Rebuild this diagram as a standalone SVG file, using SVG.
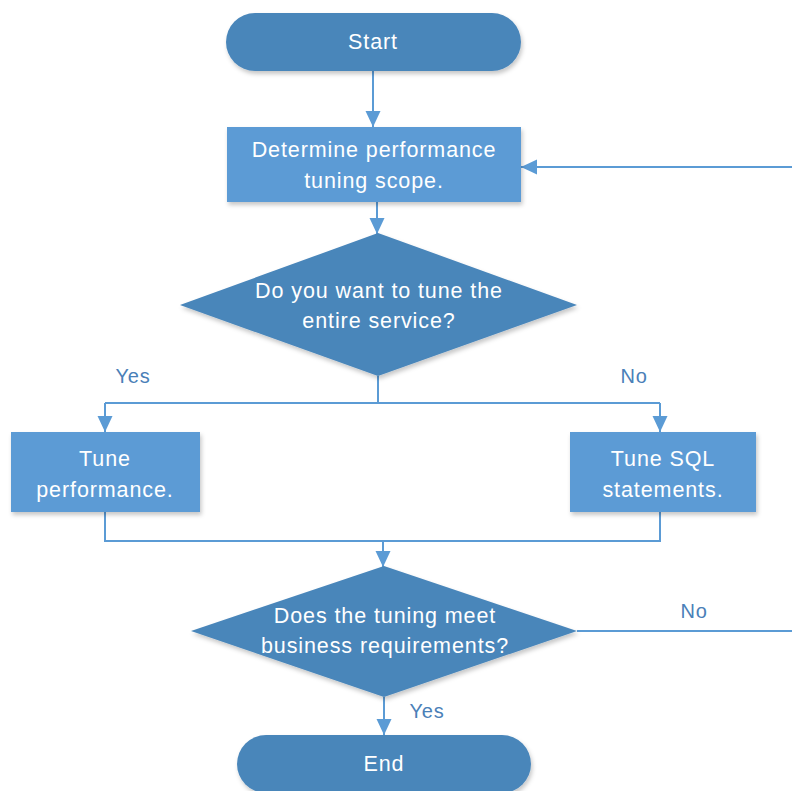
<svg xmlns="http://www.w3.org/2000/svg" width="792" height="791" viewBox="0 0 792 791">
<defs>
<style>
.term{fill:#4a86ba;filter:url(#sh)}
.proc{fill:#5b9bd5;filter:url(#sh)}
.dec{fill:#4a86ba;filter:url(#sh)}
.t{font-family:"Liberation Sans",Arial,sans-serif;font-size:21.5px;letter-spacing:0.9px;fill:#ffffff;text-anchor:middle}
.lbl{font-family:"Liberation Sans",Arial,sans-serif;font-size:20px;letter-spacing:0.8px;fill:#4a80b8;text-anchor:middle}
.c{fill:none;stroke:#5b9bd5;stroke-width:2}
.a{marker-end:url(#ah)}
</style>
<filter id="sh" x="-10%" y="-10%" width="125%" height="135%">
<feDropShadow dx="1.5" dy="3" stdDeviation="2" flood-color="#000" flood-opacity="0.22"/>
</filter>
<marker id="ah" markerUnits="userSpaceOnUse" markerWidth="16" markerHeight="16" viewBox="0 0 16 16" refX="16" refY="8" orient="auto">
<path d="M0,0.5 L16,8 L0,15.5 z" fill="#5b9bd5"/>
</marker>
</defs>
<g id="connectors">
<line class="c a" x1="373" y1="71" x2="373" y2="127"/>
<line class="c a" x1="377" y1="202" x2="377" y2="234"/>
<polyline class="c" points="378,376 378,403"/>
<polyline class="c" points="105,403 660,403"/>
<line class="c a" x1="105" y1="403" x2="105" y2="432"/>
<line class="c a" x1="660" y1="403" x2="660" y2="432"/>
<polyline class="c" points="105,512 105,541 660,541 660,512"/>
<line class="c a" x1="383" y1="541" x2="383" y2="567"/>
<line class="c" x1="577" y1="631" x2="792" y2="631"/>
<line class="c a" x1="792" y1="167" x2="521" y2="167"/>
<line class="c a" x1="384" y1="697" x2="384" y2="735"/>
<text class="lbl" x="133" y="383">Yes</text>
<text class="lbl" x="634" y="383">No</text>
<text class="lbl" x="694" y="618">No</text>
<text class="lbl" x="427" y="718">Yes</text>
</g>
<g id="start">
<rect class="term" x="226" y="13" width="295" height="58" rx="29"/>
<text class="t" x="373" y="49">Start</text>
</g>
<g id="scope">
<rect class="proc" x="227" y="127" width="294" height="75"/>
<text class="t" x="374" y="157">Determine performance</text>
<text class="t" x="374" y="188">tuning scope.</text>
</g>
<g id="decision1">
<polygon class="dec" points="378,233 577,305 378,376 180,305"/>
<text class="t" x="379" y="298">Do you want to tune the</text>
<text class="t" x="379" y="328">entire service?</text>
</g>
<g id="tunePerf">
<rect class="proc" x="11" y="432" width="189" height="80"/>
<text class="t" x="105" y="466">Tune</text>
<text class="t" x="105" y="497">performance.</text>
</g>
<g id="tuneSQL">
<rect class="proc" x="570" y="432" width="186" height="80"/>
<text class="t" x="663" y="466">Tune SQL</text>
<text class="t" x="663" y="497">statements.</text>
</g>
<g id="decision2">
<polygon class="dec" points="384,566 577,631 384,697 191,631"/>
<text class="t" x="385" y="623">Does the tuning meet</text>
<text class="t" x="385" y="653">business requirements?</text>
</g>
<g id="end">
<rect class="term" x="237" y="735" width="294" height="58" rx="29"/>
<text class="t" x="384" y="771">End</text>
</g>
</svg>
